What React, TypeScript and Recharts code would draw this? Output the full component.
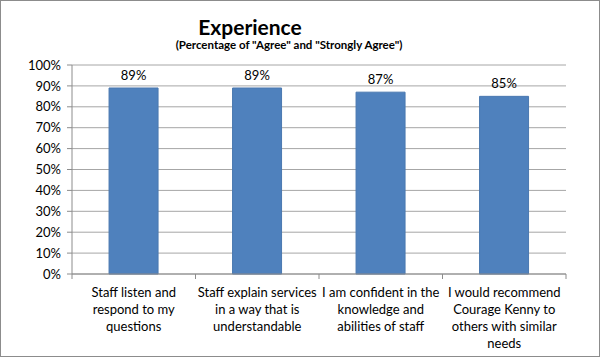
import { BarChart, Bar, XAxis, YAxis, CartesianGrid, LabelList } from 'recharts'

const categoryLines = [
  ['Staff listen and', 'respond to my', 'questions'],
  ['Staff explain services', 'in a way that is', 'understandable'],
  ['I am confident in the', 'knowledge and', 'abilities of staff'],
  ['I would recommend', 'Courage Kenny to', 'others with similar', 'needs'],
]
const categories = categoryLines.map((l) => l.join(' '))
const agreePct = [89, 89, 87, 85]
const yTicks = [0, 10, 20, 30, 40, 50, 60, 70, 80, 90, 100]

const data = categories.map((name, i) => ({ name, value: agreePct[i], lines: categoryLines[i] }))

const FONT = 'Lato, "Open Sans", sans-serif'
const BAND = 123.5

function CategoryTick(props: any) {
  const { x, y, payload, index } = props
  const lines = categoryLines[index] || [payload.value]
  return (
    <g>
      <line x1={x - BAND / 2} x2={x - BAND / 2} y1={y - 8} y2={y - 3} stroke="#8c8c8c" />
      {index === categoryLines.length - 1 && (
        <line x1={x + BAND / 2} x2={x + BAND / 2} y1={y - 8} y2={y - 3} stroke="#8c8c8c" />
      )}
      {lines.map((l: string, i: number) => (
        <text key={i} x={x} y={y + 15 + i * 17} textAnchor="middle" fontSize={13} fill="#000" fontFamily={FONT}>
          {l}
        </text>
      ))}
    </g>
  )
}

export default function App() {
  return (
    <div style={{ position: 'absolute', left: 0, top: 0, width: 600, height: 357, background: '#fff', fontFamily: FONT }}>
      <BarChart width={600} height={357} data={data} margin={{ top: 65, right: 34, left: 0, bottom: 0 }} barCategoryGap="30%">
        <CartesianGrid vertical={false} stroke="#a6a6a6" />
        <XAxis
          dataKey="name"
          height={83}
          tickLine={false}
          axisLine={{ stroke: '#8c8c8c' }}
          tick={<CategoryTick />}
          interval={0}
        />
        <YAxis
          width={72}
          domain={[0, 100]}
          ticks={yTicks}
          tickFormatter={(v) => `${v}%`}
          tickSize={5}
          tickMargin={6}
          tickLine={{ stroke: '#8c8c8c' }}
          axisLine={{ stroke: '#8c8c8c' }}
          tick={{ fontSize: 13, fill: '#000', fontFamily: FONT }}
          interval={0}
        />
        <Bar dataKey="value" fill="#4f81bd" stroke="#4a78b0" isAnimationActive={false}>
          <LabelList dataKey="value" position="top" offset={8} formatter={(v: any) => `${v}%`} fontSize={13} fill="#000" fontFamily={FONT} />
        </Bar>
      </BarChart>
      <div style={{ position: 'absolute', left: 0, top: 14, width: 500, textAlign: 'center', fontWeight: 'bold', fontSize: 21, color: '#000' }}>
        Experience
      </div>
      <div style={{ position: 'absolute', left: 0, top: 38, width: 578, textAlign: 'center', fontWeight: 'bold', fontSize: 11.5, color: '#000' }}>
        (Percentage of "Agree" and "Strongly Agree")
      </div>
      <div style={{ position: 'absolute', left: 0, top: 0, width: 600, height: 357, boxSizing: 'border-box', border: '1px solid #8c8c8c', pointerEvents: 'none' }} />
    </div>
  )
}
